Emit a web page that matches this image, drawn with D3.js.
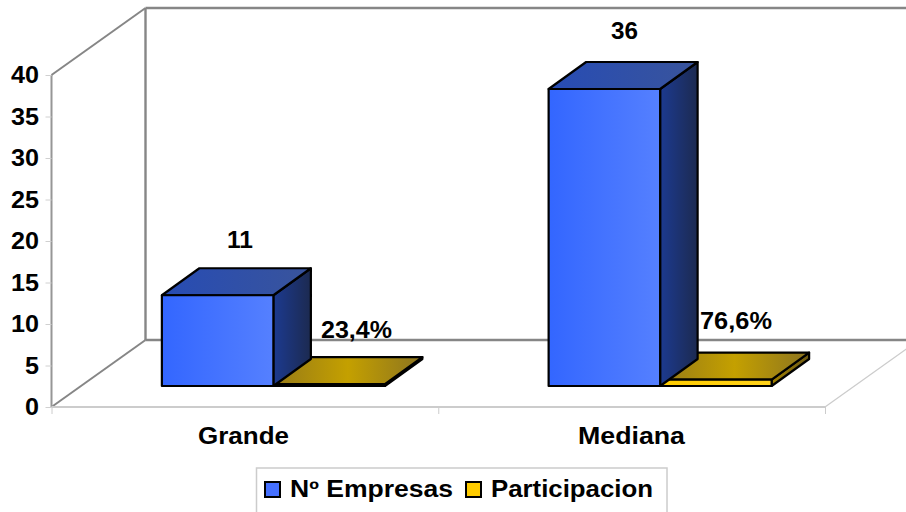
<!DOCTYPE html>
<html><head><meta charset="utf-8">
<script src="https://cdn.jsdelivr.net/npm/d3@7"></script>
<style>
html,body{margin:0;padding:0;background:#fff}
svg{display:block}
text{font-family:"Liberation Sans",Arial,sans-serif;font-weight:bold;fill:#000}
</style></head><body>
<svg id="c" width="906" height="512"></svg>
<script>
const categories=["Grande","Mediana"];
const empresas=[11,36];
const participacion=[0.234,0.766];
const yTicks=[0,5,10,15,20,25,30,35,40];
const seriesNames=["Nº Empresas","Participacion"];

const W=906,H=512,fs=23;
const svg=d3.select("#c");
const dx=94,dy=-67;          // wall depth
const bdx=37.5,bdy=-27;      // bar depth
const x0=51.5,x1=825,y0=407,y40=75;
const yAxis=d3.scaleLinear().domain([0,40]).range([y0,y40]);
const yBar=d3.scaleLinear().domain([0,40]).range([386,56]);
const band=d3.scaleBand().domain(categories).range([x0,x1]);
const barW=111.5;
const barCentre=c=>band(c)+band.bandwidth()/2+28.5;

const defs=svg.append("defs");
function grad(id,stops){
  const g=defs.append("linearGradient").attr("id",id);
  stops.forEach(([o,c])=>g.append("stop").attr("offset",o).attr("stop-color",c));
}
grad("bFront",[[0,"#3366ff"],[1,"#5580ff"]]);
grad("bTop",[[0,"#274cb4"],[1,"#39549c"]]);
grad("bSide",[[0,"#1c3a90"],[1,"#1c2a50"]]);
grad("yTop",[[0,"#967a18"],[0.5,"#c4a000"],[1,"#8c7420"]]);
grad("yFront",[[0,"#ffcc00"],[1,"#ffd21a"]]);
grad("ySide",[[0,"#a08000"],[1,"#6e5a14"]]);

function label(t,xa,xb,base){
  svg.append("text").attr("x",xa).attr("y",base)
    .attr("font-size",fs)
    .attr("textLength",xb-xa).attr("lengthAdjust","spacingAndGlyphs").text(t);
}
// walls
const wall=svg.append("g").attr("fill","none").attr("stroke","#868686").attr("stroke-width",2.4);
const lines=(g,pts)=>g.append("path").attr("d",d3.line()(pts));
lines(wall,[[x0+dx,y40+dy],[W+2,y40+dy]]);
lines(wall,[[x0+dx,y0+dy],[W+2,y0+dy]]);
lines(wall,[[x0+dx,y40+dy],[x0+dx,y0+dy]]);
lines(wall,[[x0,y40],[x0+dx,y40+dy]]).attr("stroke-width",2);
lines(wall,[[x0,y0],[x0+dx,y0+dy]]).attr("stroke-width",2);
lines(wall,[[x0,y40],[x0,y0]]).attr("stroke","#969696").attr("stroke-width",2);

// axes
const ax=svg.append("g").attr("transform",`translate(${x0},0)`)
  .call(d3.axisLeft(yAxis).tickValues(yTicks).tickSize(6).tickFormat(""));
ax.select(".domain").remove();
ax.selectAll("line").attr("stroke","#d0d0d0").attr("stroke-width",1);
yTicks.forEach(t=>{
  const s=String(t), w=s.length===2?28:14;
  label(s,39-w,39,yAxis(t)+8);
});
const floor=svg.append("g").attr("fill","none").attr("stroke","#cccccc").attr("stroke-width",2);
lines(floor,[[x0,y0],[x1,y0]]);
lines(floor,[[x1,y0],[x1+dx,y0+dy]]).attr("stroke-width",1.3);
const bx=d3.axisBottom(d3.scaleLinear().domain([0,2]).range([x0,x1])).tickValues([0,1,2]).tickSize(7).tickFormat("");
const bg=svg.append("g").attr("transform",`translate(0,${y0})`).call(bx);
bg.select(".domain").remove();
bg.selectAll("line").attr("stroke","#cccccc").attr("stroke-width",1);

// 3D bars
function bar(xL,val,front,top,side){
  const b=yBar(0),t=yBar(val),xR=xL+barW;
  const g=svg.append("g").attr("stroke","#000").attr("stroke-width",2.2).attr("stroke-linejoin","round");
  g.append("polygon").attr("points",[[xR,b],[xR+bdx,b+bdy],[xR+bdx,t+bdy],[xR,t]].join(" ")).attr("fill",`url(#${side})`);
  g.append("polygon").attr("points",[[xL,t],[xL+bdx,t+bdy],[xR+bdx,t+bdy],[xR,t]].join(" ")).attr("fill",`url(#${top})`);
  g.append("rect").attr("x",xL).attr("y",t).attr("width",barW).attr("height",b-t).attr("fill",`url(#${front})`);
}
categories.forEach((c,i)=>{
  const m=barCentre(c);
  bar(m,participacion[i],"yFront","yTop","ySide");
  bar(m-barW,empresas[i],"bFront","bTop","bSide");
});

// value labels
const pct=v=>d3.format(".1%")(v).replace(".",",");
const numSpans=[[227,253,248],[611,638,39]];
const pctSpans=[[321,392,338],[700,772,329]];
empresas.forEach((v,i)=>label(String(v),...numSpans[i]));
participacion.forEach((v,i)=>label(pct(v),...pctSpans[i]));

// category labels
const catSpans=[[198,289],[578,685]];
categories.forEach((c,i)=>label(c,catSpans[i][0],catSpans[i][1],444));

// legend
svg.append("rect").attr("x",256.5).attr("y",468).attr("width",410.5).attr("height",60)
  .attr("fill","#fff").attr("stroke","#cccccc").attr("stroke-width",1.5);
const swatches=[265,466],fills=["#4570ff","#ffcc00"],legSpans=[[290,453],[491,653]];
seriesNames.forEach((n,i)=>{
  svg.append("rect").attr("x",swatches[i]).attr("y",482).attr("width",15).attr("height",15)
    .attr("fill",fills[i]).attr("stroke","#000").attr("stroke-width",2);
  label(n,legSpans[i][0],legSpans[i][1],497);
});
</script>
</body></html>
